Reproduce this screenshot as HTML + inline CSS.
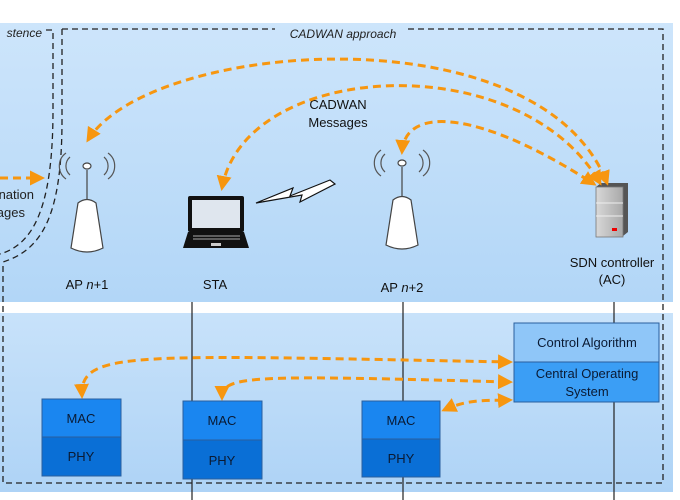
<!DOCTYPE html>
<html><head><style>
body{margin:0;background:#fff;}
svg{display:block;font-family:"Liberation Sans",sans-serif;}
</style></head><body>
<svg width="680" height="500" viewBox="0 0 680 500">
<defs>
<linearGradient id="g1" x1="0" y1="0" x2="0" y2="1"><stop offset="0" stop-color="#cde5fb"/><stop offset="1" stop-color="#b2d6f7"/></linearGradient>
<linearGradient id="g2" x1="0" y1="0" x2="0" y2="1"><stop offset="0" stop-color="#c8e2fa"/><stop offset="1" stop-color="#aed3f6"/></linearGradient>
<marker id="ah" viewBox="0 0 10 10" refX="8" refY="5" markerWidth="5" markerHeight="5" orient="auto-start-reverse"><path d="M0,0 L10,5 L0,10 z" fill="#f7960f"/></marker>
<linearGradient id="srv" x1="0" y1="0" x2="1" y2="0"><stop offset="0" stop-color="#d8d8d8"/><stop offset="1" stop-color="#a8a8a8"/></linearGradient>
</defs>
<rect x="0" y="23" width="673" height="279" fill="url(#g1)"/>
<rect x="0" y="313" width="673" height="179" fill="url(#g2)"/>
<g fill="none" stroke="#222" stroke-width="1.3" stroke-dasharray="6,4">
<path d="M62,29 H275 M408,29 H663 V483 H3 V262"/>
<path d="M62,29 V120 C62,220 40,250 3,262"/>
<path d="M46,30 H53 V110 C53,215 30,245 0,254"/>
</g>
<text x="42" y="37" font-size="12" font-style="italic" text-anchor="end" fill="#222">stence</text>
<text x="343" y="38" font-size="12" font-style="italic" text-anchor="middle" fill="#222">CADWAN approach</text>
<text x="34" y="199" font-size="13" text-anchor="end" fill="#222">nation</text>
<text x="25" y="217" font-size="13" text-anchor="end" fill="#222">ages</text>
<g stroke="#222" stroke-width="1.2">
<line x1="192" y1="302" x2="192" y2="500"/>
<line x1="403" y1="302" x2="403" y2="500"/>
<line x1="614" y1="302" x2="614" y2="500"/>
</g>
<g id="ap" stroke="#555" fill="none" stroke-width="1.2">
<path d="M70,157 a12,12 0 0,0 0,18 M66,153 a16,16 0 0,0 0,26 M104,157 a12,12 0 0,1 0,18 M108,153 a16,16 0 0,1 0,26"/>
<line x1="87" y1="170" x2="87" y2="200" stroke="#444"/>
<ellipse cx="87" cy="166" rx="4" ry="3" fill="#fff" stroke="#444"/>
<path d="M78,203 Q87,196 96,203 L103,248 Q87,256 71,248 Z" fill="#fff" stroke="#444"/>
</g>
<use href="#ap" x="315" y="-3"/>
<text x="87" y="289" font-size="13" text-anchor="middle" fill="#111">AP <tspan font-style="italic">n</tspan>+1</text>
<text x="402" y="292" font-size="13" text-anchor="middle" fill="#111">AP <tspan font-style="italic">n</tspan>+2</text>
<rect x="188" y="196" width="56" height="36" fill="#111" rx="2"/>
<rect x="192" y="200" width="48" height="28" fill="#dfe6ee"/>
<path d="M188,232 H244 L249,248 H183 Z" fill="#111"/>
<line x1="193" y1="236" x2="240" y2="236" stroke="#aaa"/>
<line x1="193" y1="239" x2="240" y2="239" stroke="#aaa"/>
<rect x="211" y="243" width="10" height="3" fill="#ccc"/>
<text x="215" y="289" font-size="13" text-anchor="middle" fill="#111">STA</text>
<path d="M256,203 L293,188 L290,196 L330,180 L335,184 L300,202 L302,195 Z" fill="#fff" stroke="#111" stroke-width="1.2"/>
<path d="M596,187 L601,183 L628,183 L628,232 L623,236 Z" fill="#555"/>
<rect x="596" y="187" width="27" height="50" fill="url(#srv)" stroke="#777" stroke-width="0.8"/>
<line x1="596" y1="203" x2="623" y2="203" stroke="#eee"/>
<line x1="596" y1="216" x2="623" y2="216" stroke="#eee"/>
<rect x="612" y="228" width="5" height="3" fill="#e00"/>
<text x="612" y="267" font-size="13" text-anchor="middle" fill="#111">SDN controller</text>
<text x="612" y="284" font-size="13" text-anchor="middle" fill="#111">(AC)</text>
<text x="338" y="109" font-size="13" text-anchor="middle" fill="#111">CADWAN</text>
<text x="338" y="127" font-size="13" text-anchor="middle" fill="#111">Messages</text>
<g fill="none" stroke="#f7960f" stroke-width="3" stroke-dasharray="8,5" marker-start="url(#ah)" marker-end="url(#ah)">
<path d="M88,140 C150,40 540,10 607,183"/>
<path d="M222,188 C245,60 520,45 600,183"/>
<path d="M402,152 C405,105 480,110 594,184"/>
<path d="M82,396 C80,350 130,355 510,362"/>
<path d="M222,398 C222,375 250,375 510,382"/>
<path d="M444,410 C470,398 490,401 510,400"/>
</g>
<path d="M0,178 H42" stroke="#f7960f" stroke-width="3" stroke-dasharray="8,5" marker-end="url(#ah)"/>
<g font-size="13" text-anchor="middle" fill="#0a2a55" stroke="#2a5f9e" stroke-width="1">
<rect x="42" y="399" width="79" height="38" fill="#1a86f0"/><rect x="42" y="437" width="79" height="39" fill="#0a6fd6"/>
<rect x="183" y="401" width="79" height="39" fill="#1a86f0"/><rect x="183" y="440" width="79" height="39" fill="#0a6fd6"/>
<rect x="362" y="401" width="78" height="38" fill="#1a86f0"/><rect x="362" y="439" width="78" height="38" fill="#0a6fd6"/>
<rect x="514" y="323" width="145" height="39" fill="#8fc6f8"/><rect x="514" y="362" width="145" height="40" fill="#3b9ef5"/>
</g>
<g font-size="13" text-anchor="middle" fill="#0a1a33">
<text x="81" y="423">MAC</text><text x="81" y="461">PHY</text>
<text x="222" y="425">MAC</text><text x="222" y="465">PHY</text>
<text x="401" y="425">MAC</text><text x="401" y="463">PHY</text>
<text x="587" y="347">Control Algorithm</text>
<text x="587" y="378">Central Operating</text>
<text x="587" y="396">System</text>
</g>
</svg>
</body></html>
